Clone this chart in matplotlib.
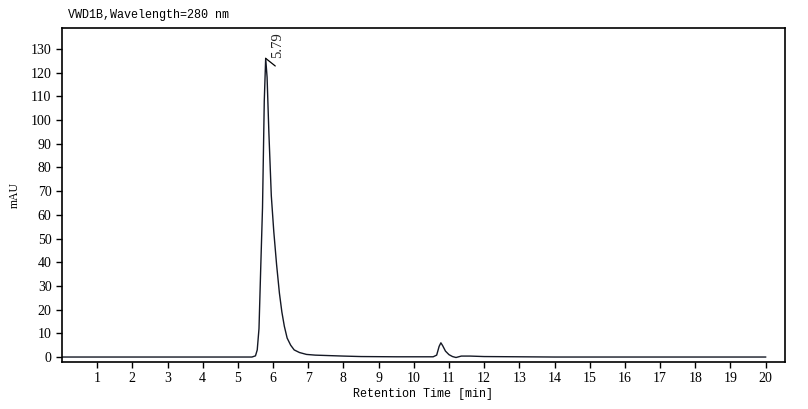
import numpy as np
import matplotlib
matplotlib.use('Agg')
import matplotlib.pyplot as plt

# trace (time in min, signal in mAU)
time_min = [0.0, 5.40, 5.50, 5.55, 5.60, 5.65, 5.70, 5.75, 5.79, 5.83, 5.88,
            5.95, 6.02, 6.10, 6.18, 6.25, 6.32, 6.40, 6.50, 6.60, 6.75, 6.95,
            7.20, 7.60, 8.00, 8.50, 9.50, 10.55, 10.65, 10.72, 10.77, 10.82,
            10.90, 11.00, 11.10, 11.20, 11.35, 11.60, 12.00, 13.00, 14.00, 20.0]
signal_mau = [0.0, 0.0, 0.5, 3.0, 12.0, 38.0, 63.0, 108.0, 126.0, 118.0, 95.0,
              68.0, 53.0, 39.0, 27.0, 19.0, 13.0, 8.0, 5.0, 3.0, 1.9, 1.1,
              0.8, 0.6, 0.4, 0.2, 0.1, 0.1, 0.8, 4.5, 6.0, 4.8,
              2.5, 1.0, 0.2, -0.2, 0.4, 0.4, 0.2, 0.1, 0.0, 0.0]

peak_time = 5.79
peak_height = 126.0
peak_label = '5.79'

x_ticks = list(range(1, 21))
y_ticks = list(range(0, 131, 10))

mono = 'Liberation Mono'
serif = 'Liberation Serif'

fig = plt.figure(figsize=(8.08, 4.09), dpi=100)
ax = fig.add_axes([0.0767, 0.1149, 0.8948, 0.8166])

ax.plot(time_min, signal_mau, color='#141824', linewidth=1.0)

# leader line from the apex, then the rotated retention time label
ax.annotate('', xy=(peak_time, peak_height), xytext=(6.9, -5.5),
            textcoords='offset points',
            arrowprops=dict(arrowstyle='-', color='black', lw=0.9,
                            shrinkA=0, shrinkB=0))
ax.annotate(peak_label, xy=(peak_time, peak_height), xytext=(3.6, 0),
            textcoords='offset points', rotation=90, ha='left', va='bottom',
            fontsize=10.5, family=serif, color='#222222')

ax.set_xlim(0, 20.55)
ax.set_ylim(-2.1, 138.8)
ax.set_xticks(x_ticks)
ax.set_yticks(y_ticks)
ax.tick_params(direction='out', length=4, width=1.0, labelsize=10)
for lbl in ax.get_xticklabels() + ax.get_yticklabels():
    lbl.set_family(serif)
for sp in ax.spines.values():
    sp.set_linewidth(1.2)

ax.set_xlabel('Retention Time [min]', family=mono, fontsize=8.5, labelpad=2)
ax.set_ylabel('mAU', family=serif, fontsize=8.5, labelpad=7)
ax.text(0.008, 1.02, 'VWD1B,Wavelength=280 nm', transform=ax.transAxes,
        family=mono, fontsize=8.5, ha='left', va='bottom')

fig.savefig('out.png', dpi=100)
